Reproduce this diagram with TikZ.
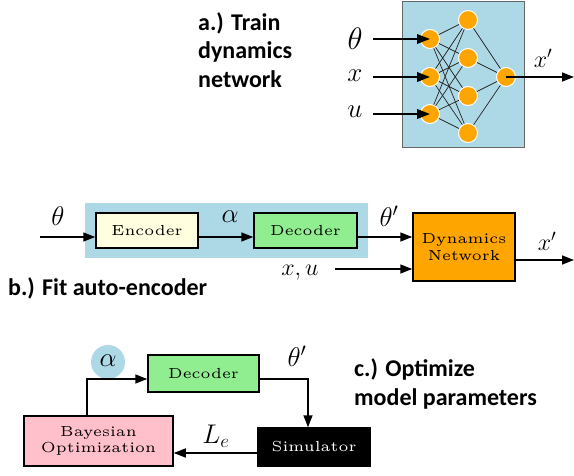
\RequirePackage{fix-cm}
\documentclass[tikz,border=0pt]{standalone}
\usepackage{fontspec}
\newfontfamily\labfont{Carlito}
\newfontfamily\boxfont{lmroman5-regular}[Extension=.otf]
\usetikzlibrary{arrows.meta,calc}
\definecolor{lblue}{HTML}{ADD8E6}
\definecolor{lyellow}{HTML}{FFFFE0}
\definecolor{lgreen}{HTML}{90EE90}
\definecolor{lpink}{HTML}{FFC0CB}
\definecolor{orng}{HTML}{FFA500}
\begin{document}
\begin{tikzpicture}[x=1pt,y=-1pt,
  arr/.style={line width=1.5pt,-{Triangle[length=12pt,width=9pt]}},
  thickarr/.style={line width=2.2pt,-{Triangle[length=13pt,width=9.5pt]}},
  blk/.style={draw=black,line width=1.5pt,inner sep=0pt,align=center,font=\boxfont\fontsize{14.6}{16.5}\selectfont},
  neuron/.style={circle,fill=orng,draw=white,line width=1pt,minimum size=19pt,inner sep=0pt},
  conn/.style={line width=0.7pt,draw=black!85},
  mlab/.style={font=\fontsize{24}{28}\selectfont,inner sep=0pt},
  mlabb/.style={font=\fontsize{27}{30}\selectfont,inner sep=0pt},
  thlab/.style={font=\fontsize{31}{34}\selectfont,inner sep=0pt},
  ttl/.style={font=\labfont\bfseries\fontsize{24}{28.5}\selectfont,align=left,anchor=west,inner sep=0pt}]
\useasboundingbox (0,0) rectangle (574,476);

% ---------- a.) ----------
\node[ttl] (ta) at (198,50) {a.) Train\\dynamics\\network};
\node[draw=black!60,line width=1pt,fill=lblue,minimum width=122pt,minimum height=146pt,inner sep=0pt] (nnbox) at (463,75) {};
\node[neuron] (i1) at (430,39) {};
\node[neuron] (i2) at (430,77) {};
\node[neuron] (i3) at (430,114) {};
\node[neuron] (h1) at (468,20) {};
\node[neuron] (h2) at (468,58) {};
\node[neuron] (h3) at (468,96) {};
\node[neuron] (h4) at (468,133) {};
\node[neuron] (o1) at (506,77) {};
\foreach \i in {i1,i2,i3}{\foreach \h in {h1,h2,h3,h4}{\draw[conn] (\i) -- (\h);}}
\foreach \h in {h1,h2,h3,h4}{\draw[conn] (\h) -- (o1);}
\node[thlab] (lth) at (355,39) {$\theta$};
\node[mlabb] (lx) at (355,76) {$x$};
\node[mlabb] (lu) at (355,112) {$u$};
\coordinate (a1) at (373,39);
\coordinate (a2) at (373,77);
\coordinate (a3) at (373,114);
\coordinate (aout) at (574,77);
\draw[thickarr] (a1) -- (i1.center);
\draw[thickarr] (a2) -- (i2.center);
\draw[thickarr] (a3) -- (i3.center);
\draw[arr] (o1.center) -- (aout);
\node[mlab] (lxp) at (543,58) {$x'$};

% ---------- b.) ----------
\node[fill=lblue,minimum width=283pt,minimum height=55pt,inner sep=0pt] (aebg) at (226.5,230.5) {};
\node[blk,fill=lyellow,minimum width=102pt,minimum height=35pt] (enc) at (147,230.5) {Encoder};
\node[blk,fill=lgreen,minimum width=103pt,minimum height=35pt] (dec) at (305.5,230.5) {Decoder};
\node[blk,fill=orng,minimum width=102pt,minimum height=68pt] (dyn) at (464,247) {Dynamics\\Network};
\coordinate (thin) at (40,237);
\coordinate (xuin) at (335,269);
\coordinate (bout) at (574,260);
\draw[arr] (thin) -- (enc.west |- thin);
\draw[arr] ([yshift=-6.5pt]enc.east) -- ([yshift=-6.5pt]dec.west);
\draw[arr] ([yshift=-6.5pt]dec.east) -- ([yshift=-6.5pt]dyn.west |- dec.east);
\draw[arr] (xuin) -- (dyn.west |- xuin);
\draw[arr] (dyn.east |- bout) -- (bout);
\node[mlabb] (lbth) at (58,216) {$\theta$};
\node[mlabb] (lbal) at (230,217) {$\alpha$};
\node[mlabb] (lbthp) at (389,216) {$\theta'$};
\node[mlab] (lbxu) at (300,273) {$x,u$};
\node[mlab] (lbxp) at (547,241) {$x'$};
\node[ttl] (tb) at (8,288) {b.) Fit auto-encoder};

% ---------- c.) ----------
\node[circle,fill=lblue,minimum size=34pt,inner sep=0pt] (alc) at (108,362) {};
\node[mlabb] (lcal) at (108,361) {$\alpha$};
\node[blk,fill=lgreen,minimum width=111pt,minimum height=37pt] (dec2) at (203.5,373.5) {Decoder};
\node[blk,fill=lpink,minimum width=149pt,minimum height=50pt] (bo) at (98.5,441) {Bayesian\\Optimization};
\node[blk,fill=black,text=white,minimum width=112pt,minimum height=38pt] (sim) at (314,447) {Simulator};
\draw[arr] ([xshift=-11.5pt]bo.north) |- ([yshift=-5.5pt]dec2.west);
\draw[arr] ([yshift=-5.5pt]dec2.east) -| ([xshift=-6pt]sim.north);
\draw[arr] ([yshift=-6pt]sim.west) -- ([yshift=-6pt]bo.east |- sim.west);
\node[mlabb] (lcth) at (297,356) {$\theta'$};
\node[mlabb] (lcle) at (216,436) {$L_e$};
\node[ttl] (tc) at (354,384) {c.) Optimize\\model parameters};
\end{tikzpicture}
\end{document}
